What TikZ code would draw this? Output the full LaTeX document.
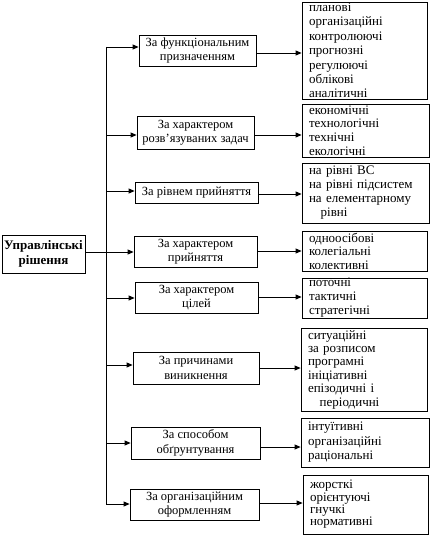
\documentclass[tikz,border=0pt]{standalone}
\usepackage{fontspec}
\setmainfont{Liberation Serif}
\usetikzlibrary{arrows.meta}
\begin{document}
\begin{tikzpicture}[x=1pt,y=-1pt,
  line width=0.8pt,
  arr/.style={-{Triangle[length=6pt,width=5pt]}},
  mbox/.style={draw, inner sep=0pt, align=center, font=\fontsize{12.5}{14.5}\selectfont},
  rbox/.style={draw, inner xsep=7pt, inner ysep=0pt, align=left, font=\fontsize{13}{#1}\selectfont},
  mainbox/.style={draw, inner sep=0pt, align=center, font=\fontsize{13}{15}\selectfont\bfseries}
]
\useasboundingbox (0,0) rectangle (432,535);

% main box
\node[mainbox, minimum width=83pt, minimum height=38pt] (m0) at (43.5,254) {Управлінські\\рішення};

% middle boxes
\node[mbox, minimum width=117pt, minimum height=31pt] (m1) at (197.5,50.5) {За функціональним\\призначенням};
\node[mbox, minimum width=117pt, minimum height=33pt] (m2) at (195.5,132.5) {За характером\\розв’язуваних задач};
\node[mbox, minimum width=123pt, minimum height=21pt] (m3) at (196.5,192.5) {За рівнем прийняття};
\node[mbox, minimum width=123pt, minimum height=31pt] (m4) at (195.5,251.5) {За характером\\прийняття};
\node[mbox, minimum width=123pt, minimum height=31pt] (m5) at (196.5,297.5) {За характером\\цілей};
\node[mbox, minimum width=126pt, minimum height=32pt] (m6) at (196,368) {За причинами\\виникнення};
\node[mbox, minimum width=129pt, minimum height=32pt] (m7) at (195.5,443) {За способом\\обґрунтування};
\node[mbox, minimum width=129pt, minimum height=31pt] (m8) at (194.5,504.5) {За організаційним\\оформленням};

% right boxes
\node[rbox=14.4, text width=111pt, minimum height=97pt] (r1) at (364.5,50.5) {планові\\організаційні\\контролюючі\\прогнозні\\регулюючі\\облікові\\аналітичні};
\node[rbox=13.7, text width=113pt, minimum height=53pt] (r2) at (365.5,130.5) {економічні\\технологічні\\технічні\\екологічні};
\node[rbox=14, text width=113pt, minimum height=60pt] (r3) at (365.5,193) {на рівні ВС\\на рівні підсистем\\на елементарному\\\hspace*{0.9em}рівні};
\node[rbox=13.5, text width=111pt, minimum height=40pt] (r4) at (364.5,251) {одноосібові\\колегіальні\\колективні};
\node[rbox=14, text width=111pt, minimum height=40pt] (r5) at (364.5,298) {поточні\\тактичні\\стратегічні};
\node[rbox=13.4, text width=112pt, minimum height=83pt] (r6) at (364,369.5) {ситуаційні\\за розписом\\програмні\\ініціативні\\епізодичні і\\\hspace*{0.9em}періодичні};
\node[rbox=14.5, text width=114pt, minimum height=49pt] (r7) at (365,442.5) {інтуїтивні\\організаційні\\раціональні};
\node[rbox=12.3, text width=111pt, minimum height=59pt] (r8) at (365.5,504.5) {жорсткі\\орієнтуючі\\гнучкі\\нормативні};

% trunk coordinates
\coordinate (t1) at (106,47);
\coordinate (t2) at (106,135);
\coordinate (t3) at (106,191);
\coordinate (t4) at (106,252);
\coordinate (t5) at (106,298);
\coordinate (t6) at (106,365);
\coordinate (t7) at (106,443);
\coordinate (t8) at (106,504);

\draw (t1) -- (t8);
\draw[arr] (m0.east |- t4) -- (t4 -| m4.west);
\draw[arr] (t1) -- (t1 -| m1.west);
\draw[arr] (t2) -- (t2 -| m2.west);
\draw[arr] (t3) -- (t3 -| m3.west);
\draw[arr] (t5) -- (t5 -| m5.west);
\draw[arr] (t6) -- (t6 -| m6.west);
\draw[arr] (t7) -- (t7 -| m7.west);
\draw[arr] (t8) -- (t8 -| m8.west);

% right connectors
\coordinate (a1) at (256,53);
\coordinate (a2) at (256,135);
\coordinate (a3) at (256,194);
\coordinate (a4) at (256,251);
\coordinate (a5) at (256,297);
\coordinate (a6) at (256,368);
\coordinate (a7) at (256,447);
\coordinate (a8) at (256,503);
\draw[arr] (a1 -| m1.east) -- (a1 -| r1.west);
\draw[arr] (a2 -| m2.east) -- (a2 -| r2.west);
\draw[arr] (a3 -| m3.east) -- (a3 -| r3.west);
\draw[arr] (a4 -| m4.east) -- (a4 -| r4.west);
\draw[arr] (a5 -| m5.east) -- (a5 -| r5.west);
\draw[arr] (a6 -| m6.east) -- (a6 -| r6.west);
\draw[arr] (a7 -| m7.east) -- (a7 -| r7.west);
\draw[arr] (a8 -| m8.east) -- (a8 -| r8.west);
\end{tikzpicture}
\end{document}
